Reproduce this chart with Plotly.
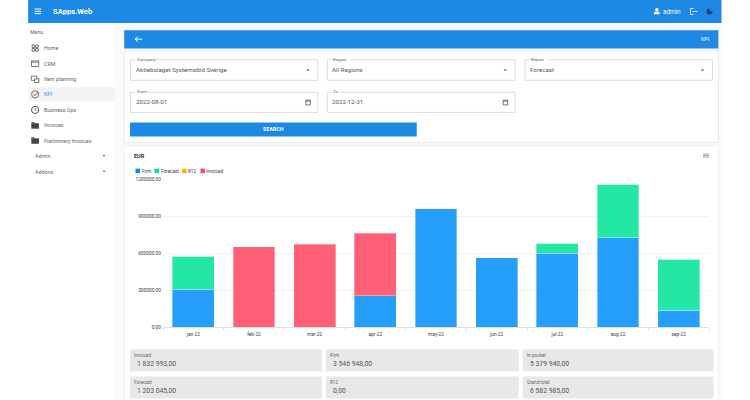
import plotly.graph_objects as go

months = ["jan-22", "feb-22", "mar-22", "apr-22", "may-22", "jun-22", "jul-22", "aug-22", "sep-22"]
firm = [307000, 0, 0, 255000, 958000, 562000, 597000, 722000, 136000]
forecast = [265000, 0, 0, 0, 0, 0, 81000, 434000, 412000]
r12 = [0, 0, 0, 0, 0, 0, 0, 0, 0]
invoiced = [0, 649000, 670000, 505000, 0, 0, 0, 0, 0]

series_names = ["Firm", "Forecast", "R12", "Invoiced"]
series_values = [firm, forecast, r12, invoiced]
series_colors = ["#008FFB", "#00E396", "#FEB019", "#FF4560"]
y_ticks = [0, 300000, 600000, 900000, 1200000]

menu_items = ["Home", "CRM", "Item planning", "KPI", "Business Ops", "Invoices", "Preliminary Invoices"]
stat_labels = ["Invoiced", "Firm", "In pocket", "Forecast", "R12", "Grand total"]
stat_values = ["1 832 993,00", "3 546 948,00", "5 379 940,00", "1 203 045,00", "0,00", "6 582 985,00"]

W, H = 750, 400
LEFT, RIGHT, TOP, BOTTOM = 163, 709.5, 179.3, 326.7
BLUE = "#1E88E5"
FONT = "Roboto"


def px(x):
    return (x - LEFT) / (RIGHT - LEFT)


def py(y):
    return (BOTTOM - y) / (BOTTOM - TOP)


shapes = []
notes = []


def rect(x0, y0, x1, y1, fill, line=None, width=1, layer="below"):
    shapes.append(dict(type="rect", xref="paper", yref="paper", x0=px(x0), x1=px(x1), y0=py(y0), y1=py(y1),
                       fillcolor=fill, line=dict(color=line or fill, width=width if line else 0), layer=layer))


def seg(x0, y0, x1, y1, color, width=1):
    shapes.append(dict(type="line", xref="paper", yref="paper", x0=px(x0), x1=px(x1), y0=py(y0), y1=py(y1),
                       line=dict(color=color, width=width), layer="above"))


def disc(x, y, r, fill="rgba(0,0,0,0)", line=None, width=0.8):
    shapes.append(dict(type="circle", xref="paper", yref="paper", x0=px(x - r), x1=px(x + r), y0=py(y - r), y1=py(y + r),
                       fillcolor=fill, line=dict(color=line or fill, width=width if line else 0), layer="above"))


def text(x, y, s, size=6, color="#555555", anchor="left", bold=False):
    if bold:
        s = "<b>" + s + "</b>"
    notes.append(dict(xref="paper", yref="paper", x=px(x), y=py(y), text=s, showarrow=False, xanchor=anchor,
                      yanchor="middle", align=anchor, borderpad=0, borderwidth=0,
                      font=dict(family=FONT, size=size, color=color)))


def caret(x, y, color="#666666"):
    seg(x - 1.3, y - 0.6, x + 1.3, y - 0.6, color, 0.8)
    seg(x - 0.6, y + 0.2, x + 0.6, y + 0.2, color, 0.8)


def icon(name, x, y):
    dark = "#555555"
    if name == "Home":
        for dx in (-3, 0.6):
            for dy in (-3.2, 0.4):
                rect(x + dx, y + dy, x + dx + 2.6, y + dy + 2.6, "rgba(0,0,0,0)", dark, 0.8, layer="above")
    elif name == "CRM":
        rect(x - 3.6, y - 2.8, x + 3.6, y + 2.8, "rgba(0,0,0,0)", dark, 0.8, layer="above")
        seg(x - 3.6, y - 1.6, x + 3.6, y - 1.6, dark, 0.8)
    elif name == "Item planning":
        rect(x - 3.8, y - 3.2, x + 1.8, y + 1, "rgba(0,0,0,0)", dark, 0.8, layer="above")
        rect(x - 0.6, y - 0.4, x + 3.8, y + 3.2, "#FFFFFF", dark, 0.8, layer="above")
    elif name == "KPI":
        disc(x, y, 3.6, line=dark)
        seg(x - 1.6, y, x - 0.3, y + 1.4, dark, 0.8)
        seg(x - 0.3, y + 1.4, x + 3, y - 2.4, dark, 0.8)
    elif name == "Business Ops":
        disc(x, y, 3.6, line=dark, width=1)
        seg(x, y - 2, x, y + 0.3, dark, 0.8)
        seg(x, y + 0.3, x + 1.5, y + 0.3, dark, 0.8)
    else:
        rect(x - 3.8, y - 2.2, x + 3.8, y + 3.2, "#444444", layer="above")
        rect(x - 3.8, y - 3.2, x - 0.5, y - 2.2, "#444444", layer="above")


# page
rect(28, 0, 722, 400, "#FAFAFA")
rect(28, 24, 115, 400, "#FFFFFF")
rect(28, 88, 115, 102, "#F2F2F2")

# top bar
rect(28, 1, 722, 24, BLUE)
for yy in [10, 12.3, 14.6]:
    seg(34.5, yy, 41, yy, "#FFFFFF", 1)
text(53, 12.3, "SApps.Web", 7.6, "#FFFFFF", bold=True)
text(681, 13, "admin", 6.3, "#FFFFFF", "right")
rect(654.5, 12.8, 660, 15.3, "#FFFFFF", layer="above")
disc(657.3, 10.8, 1.7, "#FFFFFF")
seg(691, 9.5, 691, 15.5, "#FFFFFF", 0.8)
seg(691, 9.5, 694, 9.5, "#FFFFFF", 0.8)
seg(691, 15.5, 694, 15.5, "#FFFFFF", 0.8)
seg(693, 12.5, 698, 12.5, "#FFFFFF", 0.8)
disc(710, 12.5, 3, "#123F66")
disc(712, 10.5, 2, BLUE)

# sidebar
text(30, 33, "Menu", 5.3, "#666666")
menu_y = [49, 64.5, 80, 95, 110.5, 126, 141]
for name, yy in zip(menu_items, menu_y):
    text(44, yy, name, 5.3, BLUE if name == "KPI" else "#666666")
    icon(name, 35, yy)
for name, yy in zip(["Admin", "Addons"], [156.5, 172]):
    text(35, yy, name, 5.3, "#666666")
    caret(104, yy)

# header strip
rect(124, 31, 719, 49.5, BLUE, "#CFE3F5", 0.5)
seg(135, 40, 142, 40, "#FFFFFF", 1)
seg(135, 40, 138, 37.5, "#FFFFFF", 1)
seg(135, 40, 138, 42.5, "#FFFFFF", 1)
text(710, 40, "KPI", 5.3, "#FFFFFF", "right")

# filter card
rect(124, 51.5, 719, 143, "#FFFFFF", "#E4E4E4", 0.8)
fields = [(130.5, 318, 60.5, 81, "Company", "Aktiebolaget Systemstöd Sverige"),
          (327.5, 515.5, 60.5, 81, "Region", "All Regions"),
          (525.5, 713, 60.5, 81, "Report", "Forecast"),
          (130.5, 318, 93, 113, "From", "2022-08-01"),
          (327.5, 515.5, 93, 113, "To", "2022-12-31")]
for x0, x1, y0, y1, label, value in fields:
    rect(x0, y0, x1, y1, "#FFFFFF", "#DDDDDD", 1)
    rect(x0 + 5, y0 - 1.5, x0 + 7 + len(label) * 2.6, y0 + 1.5, "#FFFFFF")
    text(x0 + 6, y0 - 0.5, label, 4.4, "#666666")
    text(x0 + 5, (y0 + y1) / 2, value, 6.2, "#555555")
    if y0 < 90:
        caret(x1 - 10, (y0 + y1) / 2 + 0.3, "#555555")
    else:
        rect(x1 - 12, (y0 + y1) / 2 - 2.3, x1 - 7.5, (y0 + y1) / 2 + 2.5, "rgba(0,0,0,0)", "#555555", 0.8, layer="above")
        seg(x1 - 12, (y0 + y1) / 2 - 1.2, x1 - 7.5, (y0 + y1) / 2 - 1.2, "#555555", 0.8)
rect(130, 123, 417, 137, BLUE)
text(273.5, 130, "SEARCH", 5.3, "#FFFFFF", "center", bold=True)

# chart card
rect(124, 146, 719, 401, "#FFFFFF", "#EBEBEB", 0.8)
text(134, 156, "EUR", 5.5, "#263238", bold=True)
for yy in [154.5, 156, 157.5]:
    seg(703.5, yy, 709.5, yy, "#6E8192", 0.7)

# legend, apex style
legend_x = [135.5, 154.5, 182, 200.5]
for name, color, xx in zip(series_names, series_colors, legend_x):
    rect(xx, 169, xx + 4.5, 173.5, color, layer="above")
    text(xx + 6, 171.5, name, 4.6, "#373D3F")

# totals
box_x = [(130, 322), (326, 519), (523, 714)]
box_y = [(349, 371), (376, 398)]
for i, (label, value) in enumerate(zip(stat_labels, stat_values)):
    x0, x1 = box_x[i % 3]
    y0, y1 = box_y[i // 3]
    rect(x0, y0, x1, y1, "#E8E8E8")
    text(x0 + 4, y0 + 6, label, 4.6, "#666666")
    text(x0 + 7, y0 + 14.5, value, 6.8, "#555555")

fig = go.Figure()
for name, values, color in zip(series_names, series_values, series_colors):
    fig.add_trace(go.Bar(x=months, y=values, name=name, opacity=0.85,
                         marker=dict(color=color, line=dict(color="rgba(255,255,255,0.35)", width=1))))

fig.update_layout(
    width=W, height=H, barmode="stack", bargap=0.31, showlegend=False,
    paper_bgcolor="#FFFFFF", plot_bgcolor="rgba(0,0,0,0)",
    margin=dict(l=LEFT, r=W - RIGHT, t=TOP, b=H - BOTTOM, pad=0),
    shapes=shapes, annotations=notes, font=dict(family=FONT),
)
fig.update_xaxes(type="category", tickson="boundaries", ticks="outside", ticklen=2, tickcolor="#E0E0E0",
                 linecolor="#E0E0E0", showline=True, showgrid=False, ticklabelstandoff=2,
                 tickfont=dict(size=4.8, color="#373D3F"))
fig.update_yaxes(range=[0, 1200000], tickvals=y_ticks, tickformat=".2f", gridcolor="#F1F1F1", zeroline=False,
                 ticklabelstandoff=1, tickfont=dict(size=4.8, color="#373D3F"))

fig.write_html("out.html", config=dict(displayModeBar=False),
               post_script="document.body.style.margin='0';document.body.style.overflow='hidden';")
